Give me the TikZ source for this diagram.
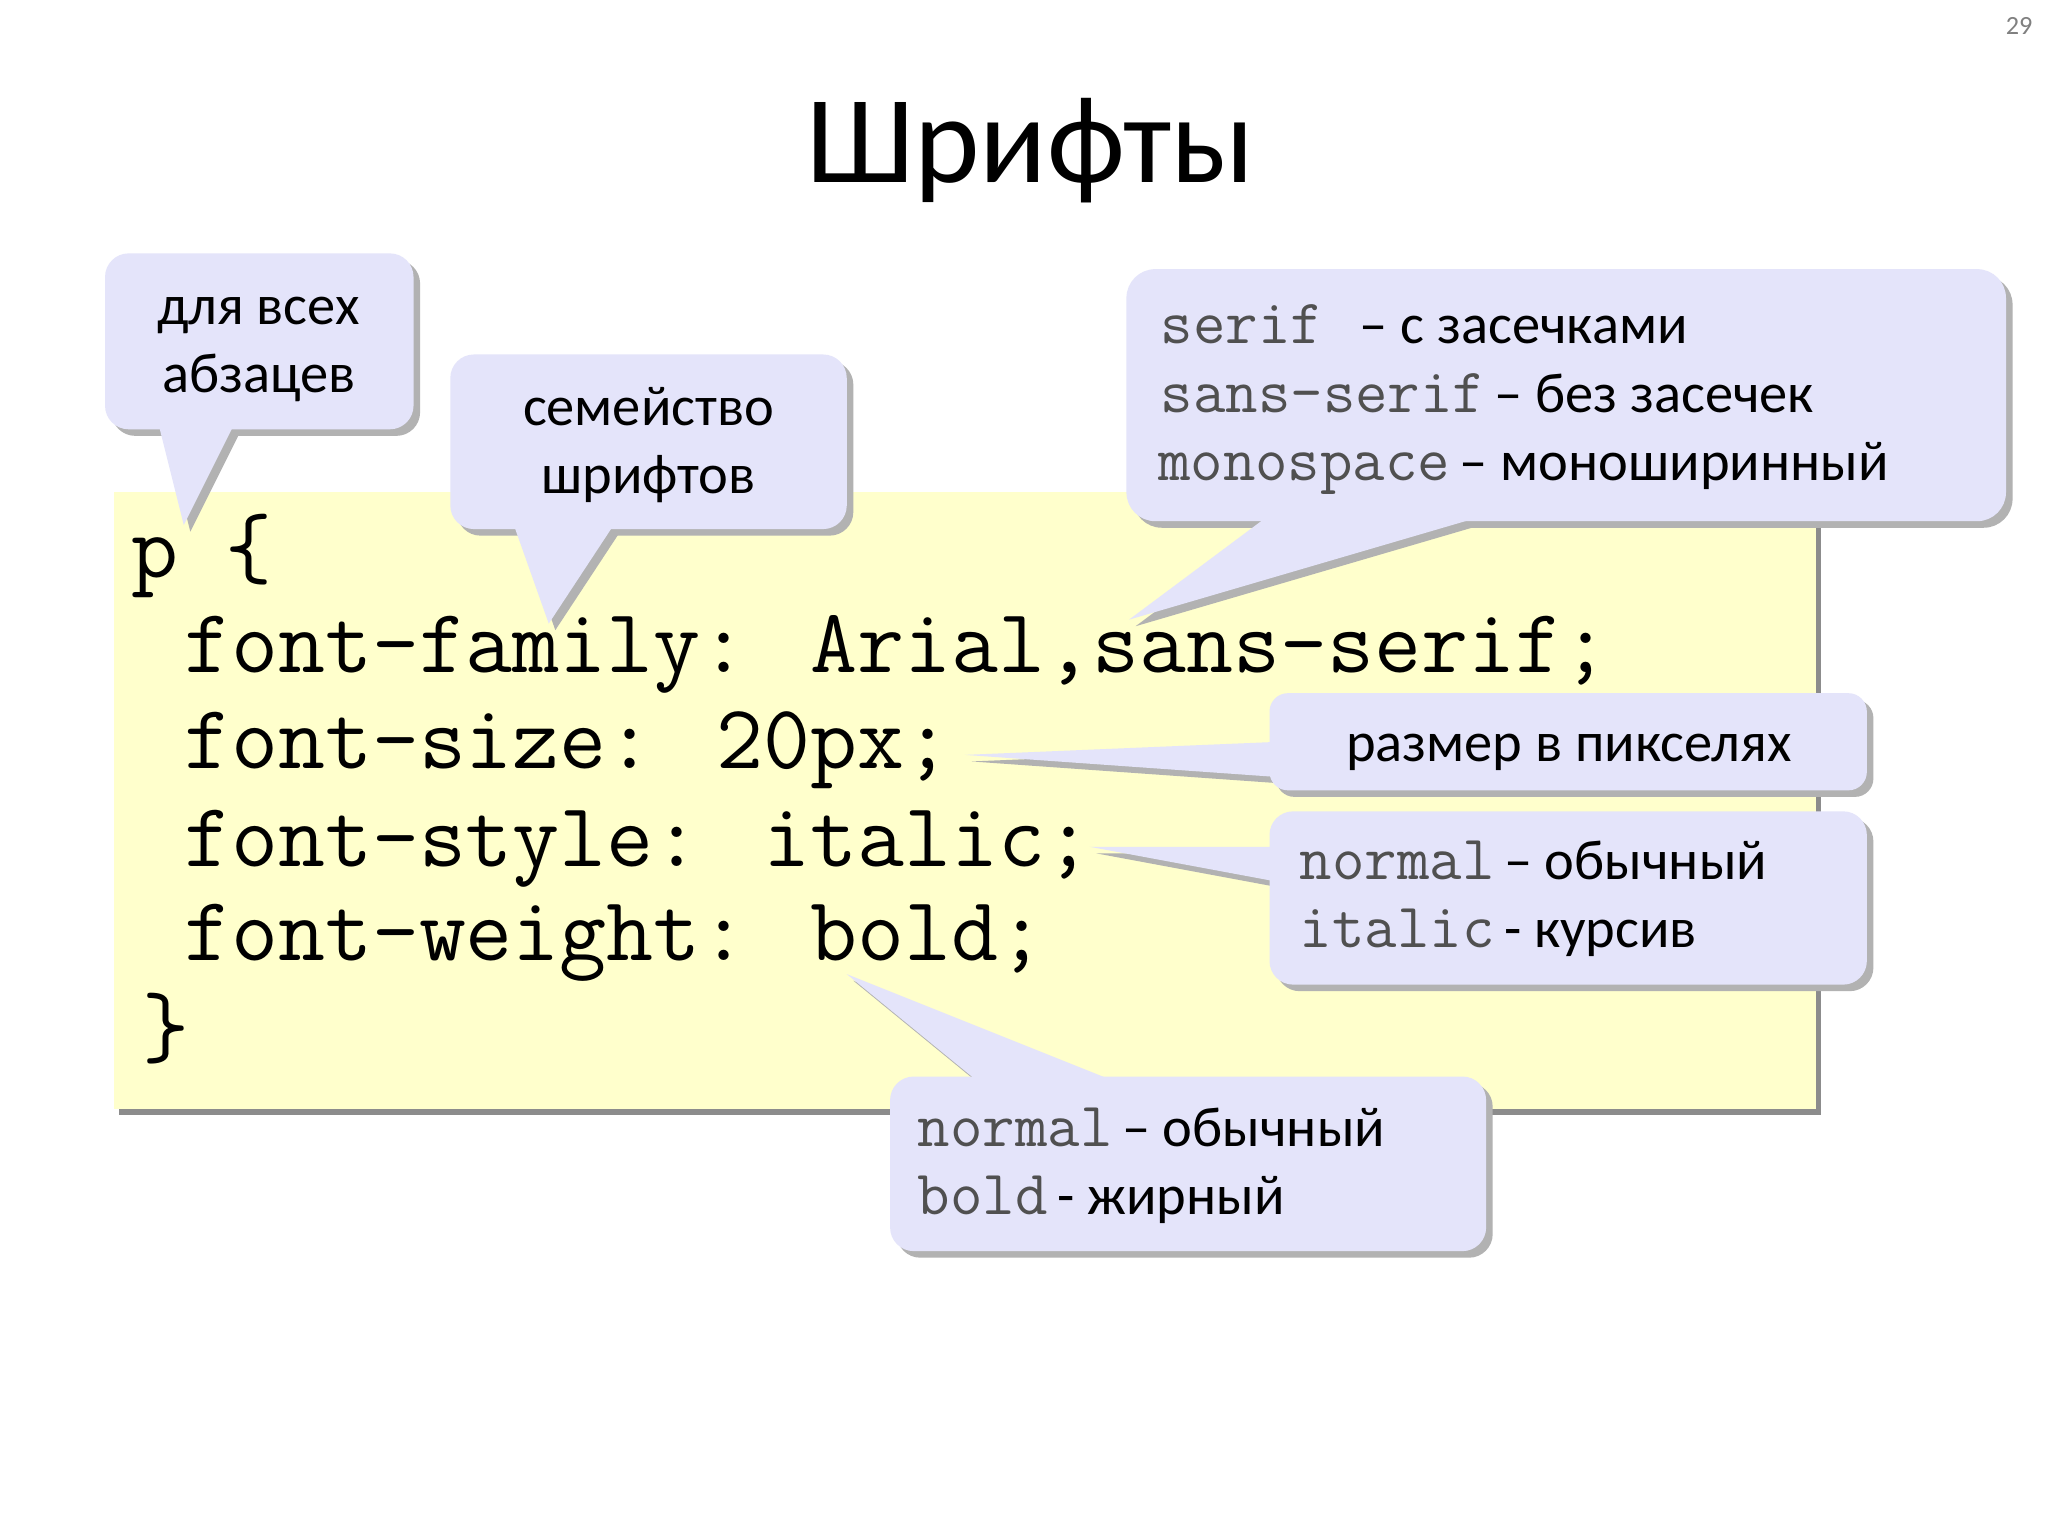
\documentclass[tikz,border=0pt]{standalone}
\usepackage{fontspec}
\setmainfont{Carlito}
\definecolor{codebg}{HTML}{FFFFCC}
\definecolor{callbg}{HTML}{E4E4FA}
\definecolor{monogray}{HTML}{505050}
\tikzset{
  codeline/.style={anchor=base west,inner sep=0pt,font=\fontsize{69.5}{72}\selectfont\ttfamily},
  calltext/.style={anchor=base west,inner sep=0pt,font=\fontsize{43}{46}\selectfont},
  callfill/.style={fill=callbg},
  callshadow/.style={fill=black!30},
}
\newcommand{\mtx}[1]{{\color{monogray}\fontsize{48}{50}\selectfont\ttfamily #1}}
\newcommand{\callout}[2]{%
  \fill[callshadow,shift={(5pt,-5pt)}] #1;
  \fill[callshadow,shift={(5pt,-5pt)}] #2;
  \fill[callfill] #1;
  \fill[callfill] #2;}
\begin{document}
\begin{tikzpicture}[x=1pt,y=-1pt]
\useasboundingbox[fill=white] (0,0) rectangle (1560,1170);
\node[text=black!50,font=\fontsize{20}{22}\selectfont] (pg) at (1538,20) {29};
\node[font=\fontsize{95}{100}\selectfont] (title) at (785,115) {Шрифты};
% code box
\fill[black!45] (91,379) rectangle (1387,849);
\fill[codebg] (87,375) rectangle (1383,845);
\node[codeline] (l0) at (100,440) {p \{};
\node[codeline] (l1) at (140,512) {font-family: Arial,sans-serif;};
\node[codeline] (l2) at (140,585) {font-size: 20px;};
\node[codeline] (l3) at (140,660) {font-style: italic;};
\node[codeline] (l4) at (140,732) {font-weight: bold;};
\node[codeline] (l5) at (108,805) {\}};
% callouts
\callout{[rounded corners=18pt] (80,193) rectangle (315,327)}{(120,320) -- (180,320) -- (140,400) -- cycle}
\node[calltext,anchor=base] (c1a) at (197,247) {для всех};
\node[calltext,anchor=base] (c1b) at (197,299) {абзацев};
\callout{[rounded corners=18pt] (343,270) rectangle (645,403)}{(390,396) -- (470,396) -- (418,475) -- cycle}
\node[calltext,anchor=base] (c2a) at (494,324) {семейство};
\node[calltext,anchor=base] (c2b) at (494,376) {шрифтов};
\callout{[rounded corners=22pt] (858,205) rectangle (1528,397)}{(970,390) -- (1140,390) -- (860,472) -- cycle}
\node[calltext] (c3a) at (884,262) {\mtx{serif}\hspace{28pt}– с засечками};
\node[calltext] (c3b) at (884,314) {\mtx{sans-serif}\,– без засечек};
\node[calltext] (c3c) at (882,366) {\mtx{monospace}\,– моноширинный};
\callout{[rounded corners=14pt] (967,528) rectangle (1422,602)}{(975,565) -- (975,592) -- (735,575) -- cycle}
\node[calltext,anchor=base] (c4) at (1195,580) {размер в пикселях};
\callout{[rounded corners=18pt] (967,618) rectangle (1422,750)}{(975,645) -- (975,672) -- (830,645) -- cycle}
\node[calltext] (c5a) at (990,670) {\mtx{normal}\,– обычный};
\node[calltext] (c5b) at (990,722) {\mtx{italic}\,- курсив};
\callout{[rounded corners=18pt] (678,820) rectangle (1132,953)}{(750,828) -- (860,828) -- (645,742) -- cycle}
\node[calltext] (c6a) at (699,873) {\mtx{normal}\,– обычный};
\node[calltext] (c6b) at (699,925) {\mtx{bold}\,- жирный};
\end{tikzpicture}
\end{document}
